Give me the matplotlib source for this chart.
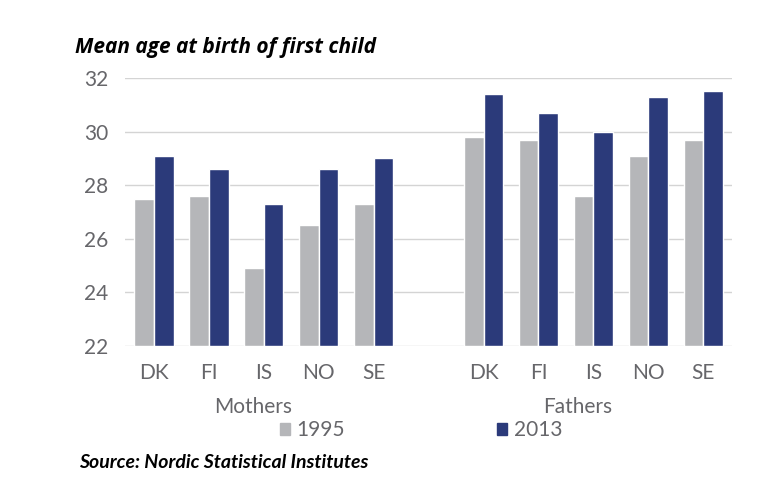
import matplotlib
matplotlib.use("Agg")
import matplotlib.pyplot as plt
from matplotlib.patches import Patch
import numpy as np

countries = ["DK", "FI", "IS", "NO", "SE"]
groups = ["Mothers", "Fathers"]
mothers_1995 = [27.5, 27.6, 24.9, 26.5, 27.3]
mothers_2013 = [29.1, 28.6, 27.3, 28.6, 29.0]
fathers_1995 = [29.8, 29.7, 27.6, 29.1, 29.7]
fathers_2013 = [31.4, 30.7, 30.0, 31.3, 31.5]
years = ["1995", "2013"]

grey = "#b5b6b9"
navy = "#2b3a7a"
txt = "#66666a"

plt.rcParams["font.family"] = ["Lato", "DejaVu Sans"]

fig = plt.figure(figsize=(7.68, 4.82), dpi=100)
ax = fig.add_axes([0.163, 0.282, 0.790, 0.556])

# mothers on slots 0..4, fathers on 6..10
pos = np.concatenate([np.arange(5), np.arange(5) + 6])
v95 = mothers_1995 + fathers_1995
v13 = mothers_2013 + fathers_2013
w = 0.36
ax.bar(pos - w / 2, np.array(v95) - 22, w, bottom=22, color=grey,
       edgecolor="white", linewidth=1.0, zorder=3)
ax.bar(pos + w / 2, np.array(v13) - 22, w, bottom=22, color=navy,
       edgecolor="white", linewidth=1.0, zorder=3)

ax.set_ylim(22, 32)
ax.set_yticks(range(22, 33, 2))
ax.set_xlim(-0.52, 10.52)
ax.set_xticks(pos)
ax.set_xticklabels(countries * 2)
ax.grid(axis="y", color="#d4d4d4", linewidth=1.0, zorder=0)
for s in ax.spines.values():
    s.set_visible(False)
ax.tick_params(length=0, labelsize=15, colors=txt)
ax.tick_params(axis="x", pad=12)
ax.tick_params(axis="y", pad=12)

fig.text(253 / 768, 1 - 407 / 482, groups[0], ha="center", va="center",
         fontsize=15, color=txt)
fig.text(578 / 768, 1 - 407 / 482, groups[1], ha="center", va="center",
         fontsize=15, color=txt)

handles = [Patch(color=grey), Patch(color=navy)]
fig.legend(handles, years, loc="center", bbox_to_anchor=(421 / 768, 1 - 430 / 482),
           ncol=2, frameon=False, fontsize=15, handlelength=0.5, handleheight=0.5,
           handletextpad=0.3, columnspacing=7.3, labelcolor=txt)

fig.text(75 / 768, 1 - 47 / 482, "Mean age at birth of first child",
         fontsize=15, fontweight="bold", style="italic", family="Open Sans",
         ha="left", va="center", color="black")
fig.text(79 / 768, 1 - 463 / 482, "Source: Nordic Statistical Institutes",
         fontsize=14, fontweight="bold", style="italic",
         ha="left", va="center", color="black")

fig.savefig("out.png", dpi=100)
